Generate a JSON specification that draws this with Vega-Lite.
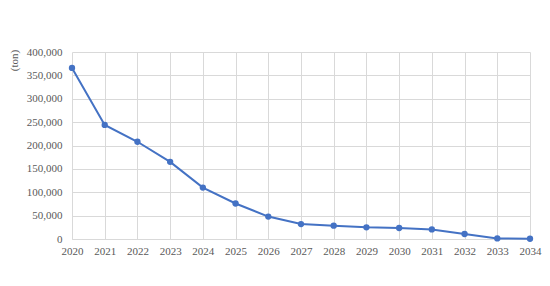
{
  "$schema": "https://vega.github.io/schema/vega-lite/v6.json",
  "autosize": "none",
  "width": 458,
  "height": 187,
  "padding": {"left": 72, "top": 52, "right": 20, "bottom": 47},
  "background": "white",
  "config": {
    "view": {"stroke": null},
    "font": "'Liberation Serif', serif"
  },
  "data": {
    "values": [
      {"year": "2020", "tons": 366000},
      {"year": "2021", "tons": 244000},
      {"year": "2022", "tons": 208000},
      {"year": "2023", "tons": 165000},
      {"year": "2024", "tons": 110000},
      {"year": "2025", "tons": 76000},
      {"year": "2026", "tons": 48000},
      {"year": "2027", "tons": 32000},
      {"year": "2028", "tons": 28500},
      {"year": "2029", "tons": 25000},
      {"year": "2030", "tons": 23500},
      {"year": "2031", "tons": 20500},
      {"year": "2032", "tons": 10700},
      {"year": "2033", "tons": 1300},
      {"year": "2034", "tons": 500}
    ]
  },
  "mark": {"type": "line", "color": "#4472C4", "strokeWidth": 2, "point": {"filled": true, "size": 40, "color": "#4472C4"}},
  "encoding": {
    "x": {
      "field": "year", "type": "ordinal",
      "scale": {"type": "point", "padding": 0},
      "axis": {
        "title": null, "labelAngle": 0, "grid": true, "gridColor": "#d9d9d9",
        "domainColor": "#d9d9d9", "ticks": false, "labelPadding": 6,
        "labelFontSize": 11, "labelColor": "#595959", "labelFont": "'Liberation Serif', serif"
      }
    },
    "y": {
      "field": "tons", "type": "quantitative",
      "scale": {"domain": [0, 400000]},
      "axis": {
        "title": "(ton)", "values": [0, 50000, 100000, 150000, 200000, 250000, 300000, 350000, 400000],
        "format": ",d", "grid": true, "gridColor": "#d9d9d9", "domain": false, "ticks": false,
        "labelPadding": 10, "labelFontSize": 11, "labelColor": "#595959", "labelFont": "'Liberation Serif', serif",
        "titleFont": "'Liberation Serif', serif", "titleFontSize": 11, "titleFontWeight": "normal", "titleColor": "#595959",
        "titleAngle": 270, "titleX": -58, "titleY": 8, "titleAlign": "center", "titleBaseline": "middle"
      }
    }
  }
}
